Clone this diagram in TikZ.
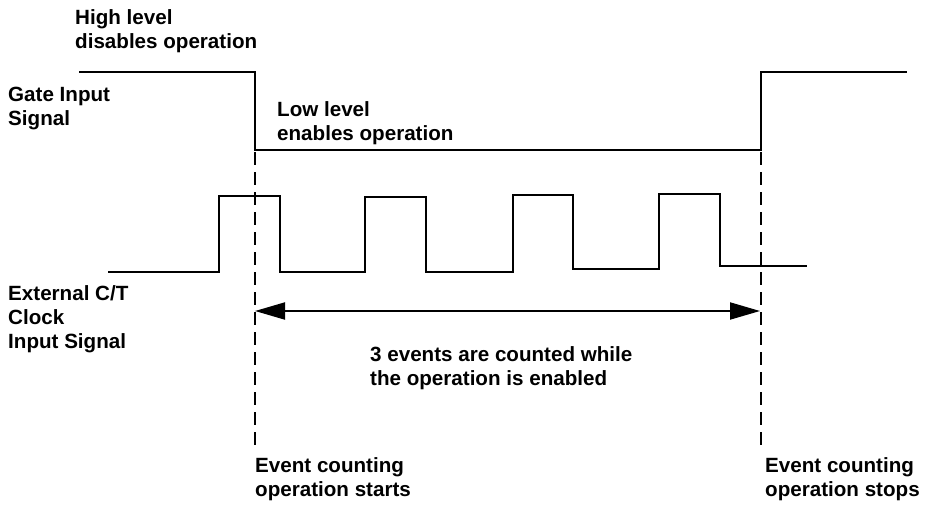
\documentclass[tikz,border=0pt]{standalone}
\usepackage{fontspec}
\setmainfont{Liberation Sans}
\usetikzlibrary{arrows.meta,positioning}

\begin{document}
\begin{tikzpicture}[x=1pt, y=-1pt,
	wave/.style={line width=2.6pt, line join=miter},
	marker/.style={line width=2.4pt, dash pattern=on 13pt off 7pt},
	span/.style={line width=2pt, {Triangle[length=30pt, width=17pt]}-{Triangle[length=30pt, width=17pt]}},
	lbl/.style={anchor=base west, align=left, inner sep=0pt, font=\bfseries\fontsize{20.6}{24}\selectfont}]
	\useasboundingbox (0,0) rectangle (925,506);

	% gate input: high - low - high
	\coordinate (G0) at (79,72);
	\coordinate (Gdown) at (255,72);
	\coordinate (Gup) at (761,72);
	\coordinate (G1) at (907,72);
	\draw[wave] (G0) -- (Gdown) -- (255,150) -- (761,150) -- (Gup) -- (G1);

	% external clock, four pulses
	\draw[wave] (108,272) -- (219,272) -- (219,196) -- (280,196) -- (280,272)
		-- (365,272) -- (365,197) -- (426,197) -- (426,272)
		-- (513,272) -- (513,195) -- (573,195) -- (573,269)
		-- (659,269) -- (659,194) -- (720,194) -- (720,266) -- (807,266);

	% start / stop markers
	\coordinate (startEnd) at (255,445);
	\coordinate (stopEnd) at (761,447);
	\draw[marker] (Gdown) -- (startEnd);
	\draw[marker] (Gup) -- (stopEnd);

	\coordinate (spanL) at (255,311);
	\coordinate (spanR) at (760,311);
	\draw[span] (spanL) -- (spanR);

	% anchors sit on the last line's baseline
	\node[lbl] (high) at (75,48) {High level\\disables operation};
	\node[lbl] (gate) at (8,125) {Gate Input\\Signal};
	\node[lbl] (low) at (277,140) {Low level\\enables operation};
	\node[lbl] (clock) at (8,348) {External C/T\\Clock\\Input Signal};
	\node[lbl] (count) at (370,385) {3 events are counted while\\the operation is enabled};
	\node[lbl] (starts) at (255,496) {Event counting\\operation starts};
	\node[lbl] (stops) at (765,496) {Event counting\\operation stops};
\end{tikzpicture}
\end{document}
